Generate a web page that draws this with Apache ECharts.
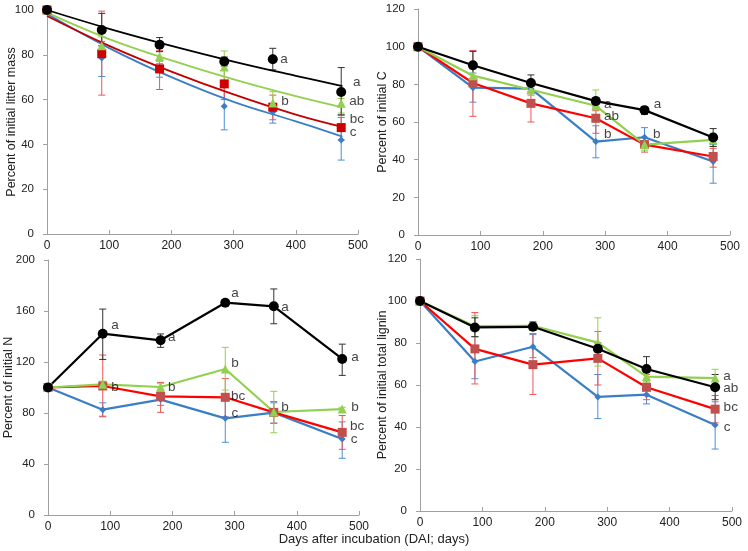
<!DOCTYPE html>
<html><head><meta charset="utf-8">
<script src="https://cdn.jsdelivr.net/npm/echarts@6/dist/echarts.min.js"></script>
<style>html,body{margin:0;padding:0;background:#fff}#c{width:748px;height:551px}</style>
</head><body><div id="c"></div>
<script>
// ---- data ----
const days = [0, 88, 181, 285, 363, 473];
const treatments = ['blue', 'red', 'green', 'black'];

// Panel 1: percent of initial litter mass (points)
const massBlue  = [100, 78.6, 73, 57, 54.5, 42];
const massRed   = [100, 80.5, 73.7, 67, 56.6, 47.5];
const massGreen = [100, 84, 79.2, 74.6, 58.5, 58.4];
const massBlack = [100, 91.1, 84.5, 77, 78, 63.4];
// fitted decay curves
const fitDays = [0, 100, 200, 300, 400, 475];
const fitBlue  = [98.3, 83, 70, 59, 50.3, 43.5];
const fitRed   = [97.3, 84, 72.5, 62.3, 53.3, 47.8];
const fitGreen = [98.8, 87, 77.5, 69, 61.5, 56.5];
const fitBlack = [100, 91.6, 84, 77, 70.6, 66];
// error bars [day, low, high]
const massErrBlue  = [[88, 70.3, 86], [181, 70, 76], [285, 46.5, 66], [363, 49.5, 58], [473, 33, 52]];
const massErrRed   = [[88, 62, 99.5], [181, 64.5, 82], [285, 60, 73], [363, 51, 62], [473, 42, 53]];
const massErrGreen = [[88, 80, 88], [181, 77, 81.5], [285, 68, 81.7], [363, 55, 63.5], [473, 54, 60.5]];
const massErrBlack = [[88, 84, 98.5], [181, 81.4, 87.7], [285, 75, 79], [363, 73.3, 82.9], [473, 53.2, 74.3]];
const massLetters = [[381, 78.1, 'a'], [498, 67.9, 'a'], [498, 59.4, 'ab'], [382.6, 59.4, 'b'], [498, 51.2, 'bc'], [492, 45.2, 'c']];

// Panel 2: percent of initial C
const cBlue  = [100, 78.2, 77.7, 49.6, 51.9, 39];
const cRed   = [100, 80.7, 69.9, 62, 48, 41.7];
const cGreen = [100, 84.6, 77.1, 68.6, 48, 50.5];
const cBlack = [100, 90.1, 80.7, 71.1, 66.3, 51.8];
const cErrBlue  = [[88, 70.5, 86], [181, 75, 80], [285, 41, 58], [363, 47, 57], [473, 27.5, 48]];
const cErrRed   = [[88, 63, 98], [181, 60, 75], [285, 54, 66], [363, 44, 50], [473, 36, 46]];
const cErrGreen = [[88, 80, 88], [181, 74, 80], [285, 60, 77], [363, 45, 50], [473, 47, 54]];
const cErrBlack = [[88, 83, 97.5], [181, 76, 85], [285, 68, 73], [363, 64, 68], [473, 47, 56.5]];
const cLetters = [[304, 69.6, 'a'], [384, 69.6, 'a'], [310, 62.8, 'ab'], [304, 53.6, 'b'], [382.5, 53.6, 'b']];

// Panel 3: percent of initial N
const nBlue  = [100, 82.6, 90.5, 75.8, 80.3, 59.6];
const nRed   = [100, 101.2, 93.1, 92.3, 80.5, 64.8];
const nGreen = [100, 102.5, 100.4, 114.5, 80.8, 83.1];
const nBlack = [100, 142.2, 137, 166.5, 163.7, 122.4];
const nErrBlue  = [[88, 77.5, 88], [181, 86, 95], [285, 57, 95], [363, 72, 88], [473, 44.5, 73]];
const nErrRed   = [[88, 77, 125.5], [181, 80.5, 104], [285, 77, 107], [363, 72, 89], [473, 51.5, 78]];
const nErrGreen = [[88, 100, 105], [181, 97, 103], [285, 98, 131.5], [363, 64.5, 97], [473, 81, 84.5]];
const nErrBlack = [[88, 122, 161.5], [181, 131.5, 142], [285, 165, 168], [363, 150, 177.3], [473, 109.5, 134]];
const nLetters = [[107.7, 149, 'a'], [199, 139, 'a'], [300.6, 174, 'a'], [381, 163, 'a'], [493.6, 124, 'a'],
  [107.7, 100.4, 'b'], [199, 100.4, 'b'], [300.6, 119.2, 'b'], [305.5, 93.3, 'bc'], [300.6, 80, 'c'],
  [381, 84.7, 'b'], [493.6, 84.7, 'b'], [496.8, 69.8, 'bc'], [492, 59.6, 'c']];

// Panel 4: percent of initial total lignin
const lBlue  = [100, 71.2, 78.2, 54.3, 55.4, 40.9];
const lRed   = [100, 77.2, 69.7, 72.7, 58.9, 48.5];
const lGreen = [100, 88, 88.2, 80.2, 64, 63.3];
const lBlack = [100, 87.4, 87.7, 77.3, 67.6, 58.9];
const lErrBlue  = [[88, 63, 83], [181, 73, 84], [285, 44, 65], [363, 51, 60], [473, 29.5, 52]];
const lErrRed   = [[88, 60.5, 94.5], [181, 55.5, 84.5], [285, 60, 85.5], [363, 53, 65], [473, 42, 55]];
const lErrGreen = [[88, 83, 93], [181, 86, 90], [285, 69, 92], [363, 61, 67], [473, 59, 67.5]];
const lErrBlack = [[88, 83, 92], [181, 86, 90], [285, 76, 80], [363, 62, 73.5], [473, 53, 65]];
const lLetters = [[492, 64.3, 'a'], [498, 58.6, 'ab'], [498, 49.5, 'bc'], [492, 40, 'c']];

const yTitles = ['Percent of initial litter mass', 'Percent of initial C', 'Percent of initial N', 'Percent of initial total lignin'];
const yMax = [100, 120, 200, 120];
const yStep = [20, 20, 40, 20];
const xTitle = 'Days after incubation (DAI; days)';

// ---- styles ----
const COL = {
  blue: '#3a7ec6', red: '#ff0000', green: '#92d050', black: '#000000'
};
const MARK = {
  blue: {symbol: 'diamond', size: 7, color: '#3a7ec6'},
  red: {symbol: 'rect', size: 9, color: '#c0504d'},
  green: {symbol: 'triangle', size: 9, color: '#92d050'},
  black: {symbol: 'circle', size: 10, color: '#000000'}
};
const ERRCOL = {blue: '#4a8fd6', red: '#ee5555', green: '#92d050', black: '#333333'};

const gridBase = {containLabel: false, outerBoundsMode: 'none'};
const grids = [
  Object.assign({left: 47, top: 10, width: 311, height: 224}, gridBase),
  Object.assign({left: 418, top: 9, width: 312, height: 226}, gridBase),
  Object.assign({left: 48, top: 260, width: 311, height: 255}, gridBase),
  Object.assign({left: 420, top: 259, width: 312, height: 252}, gridBase)
];
const nameGaps = [28.5, 29, 32.5, 31];

const font = 'Liberation Sans, Arial, sans-serif';
const xAxes = grids.map((g, i) => ({
  type: 'value', gridIndex: i, min: 0, max: 500, interval: 100,
  axisLine: {lineStyle: {color: '#a0a0a0'}},
  axisTick: {inside: true, length: 4, lineStyle: {color: '#a0a0a0'}},
  axisLabel: {color: '#222', fontSize: 12, fontFamily: font, margin: 6},
  splitLine: {show: false}
}));
const yAxes = grids.map((g, i) => ({
  type: 'value', gridIndex: i, min: 0, max: yMax[i], interval: yStep[i],
  name: yTitles[i], nameLocation: 'middle', nameGap: nameGaps[i], nameMoveOverlap: false,
  nameTextStyle: {color: '#222', fontSize: 12.5, fontFamily: font},
  axisLine: {show: true, lineStyle: {color: '#a0a0a0'}},
  axisTick: {show: true, length: 4, lineStyle: {color: '#a0a0a0'}},
  axisLabel: {color: '#222', fontSize: 11.5, fontFamily: font, margin: 13},
  splitLine: {show: false}
}));

function errSeries(idx, data, key) {
  const color = ERRCOL[key];
  return {
    type: 'custom', xAxisIndex: idx, yAxisIndex: idx, z: 1,
    data: data, encode: {x: 0, y: [1, 2]}, silent: true,
    renderItem: function (params, api) {
      const x = api.value(0);
      const lo = api.coord([x, api.value(1)]);
      const hi = api.coord([x, api.value(2)]);
      const w = 3.5;
      const st = {stroke: color, lineWidth: 1};
      return {type: 'group', children: [
        {type: 'line', shape: {x1: lo[0], y1: lo[1], x2: hi[0], y2: hi[1]}, style: st},
        {type: 'line', shape: {x1: lo[0] - w, y1: lo[1], x2: lo[0] + w, y2: lo[1]}, style: st},
        {type: 'line', shape: {x1: hi[0] - w, y1: hi[1], x2: hi[0] + w, y2: hi[1]}, style: st}
      ]};
    }
  };
}
function pointSeries(idx, vals, key, withLine, markColor) {
  const m = MARK[key];
  return {
    type: 'line', xAxisIndex: idx, yAxisIndex: idx, z: 3,
    data: days.map((d, j) => [d, vals[j]]),
    symbol: m.symbol, symbolSize: m.size, showSymbol: true,
    itemStyle: {color: markColor || m.color, borderWidth: 0},
    lineStyle: {color: COL[key], width: withLine ? 2.2 : 0, opacity: withLine ? 1 : 0},
    silent: true, animation: false
  };
}
function fitSeries(idx, vals, key, color) {
  return {
    type: 'line', xAxisIndex: idx, yAxisIndex: idx, z: 2, smooth: 0.4,
    data: fitDays.map((d, j) => [d, vals[j]]),
    symbol: 'none', lineStyle: {color: color, width: 1.8}, silent: true
  };
}
function letterSeries(idx, arr) {
  return {
    type: 'scatter', xAxisIndex: idx, yAxisIndex: idx, z: 5, symbolSize: 0,
    clip: false, silent: true,
    data: arr.map(a => ({value: [a[0], a[1]], name: a[2]})),
    label: {show: true, position: 'inside', formatter: '{b}', color: '#111', fontSize: 13.5, fontFamily: font}
  };
}

const series = [];
// panel 1
const p1Red = '#c00000';
[['blue', massErrBlue], ['red', massErrRed], ['green', massErrGreen], ['black', massErrBlack]].forEach(e => series.push(errSeries(0, e[1], e[0])));
series.push(fitSeries(0, fitBlue, 'blue', COL.blue));
series.push(fitSeries(0, fitRed, 'red', p1Red));
series.push(fitSeries(0, fitGreen, 'green', COL.green));
series.push(fitSeries(0, fitBlack, 'black', '#000'));
series.push(pointSeries(0, massBlue, 'blue', false));
series.push(pointSeries(0, massRed, 'red', false, '#cc0000'));
series.push(pointSeries(0, massGreen, 'green', false));
series.push(pointSeries(0, massBlack, 'black', false));
series.push(letterSeries(0, massLetters));
// panels 2-4
const panels = [
  [1, [cBlue, cRed, cGreen, cBlack], [cErrBlue, cErrRed, cErrGreen, cErrBlack], cLetters],
  [2, [nBlue, nRed, nGreen, nBlack], [nErrBlue, nErrRed, nErrGreen, nErrBlack], nLetters],
  [3, [lBlue, lRed, lGreen, lBlack], [lErrBlue, lErrRed, lErrGreen, lErrBlack], lLetters]
];
panels.forEach(p => {
  treatments.forEach((k, j) => series.push(errSeries(p[0], p[2][j], k)));
  treatments.forEach((k, j) => series.push(pointSeries(p[0], p[1][j], k, true)));
  series.push(letterSeries(p[0], p[3]));
});

const chart = echarts.init(document.getElementById('c'), null, {renderer: 'canvas'});
chart.setOption({
  backgroundColor: '#fff',
  animation: false,
  grid: grids,
  xAxis: xAxes,
  yAxis: yAxes,
  series: series,
  graphic: [{
    type: 'text', left: 'center', top: 533,
    style: {text: xTitle, fill: '#222', fontSize: 13, fontFamily: font}
  }]
});
</script></body></html>
